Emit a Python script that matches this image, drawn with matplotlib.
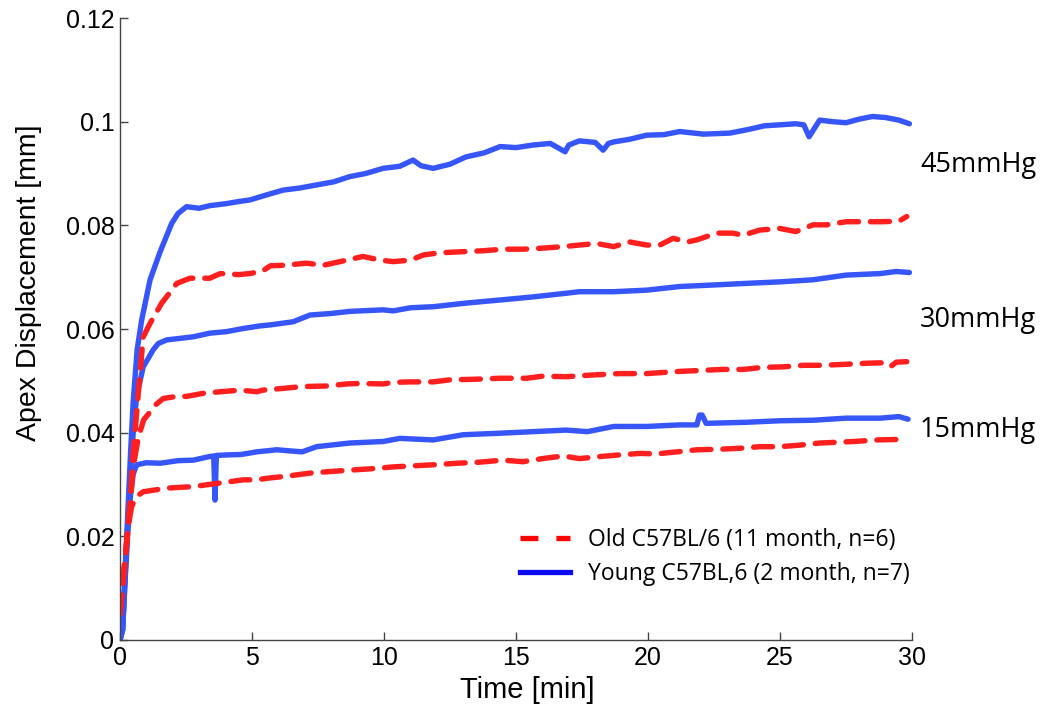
import numpy as np
import matplotlib
matplotlib.use("Agg")
import matplotlib.pyplot as plt
from matplotlib.lines import Line2D

# ---------------- DATA (time [min], displacement [mm]) ----------------
young_45 = np.array([
    (0, 0), (0.1, 0.002), (0.2, 0.014), (0.3, 0.025), (0.4, 0.036), (0.5, 0.046),
    (0.65, 0.056), (0.82, 0.0617), (1.14, 0.0695), (1.52, 0.0749), (1.96, 0.0804),
    (2.2, 0.0823), (2.52, 0.0836), (3.0, 0.0833), (3.4, 0.0838), (4.04, 0.0842),
    (4.5, 0.0846), (4.92, 0.0849), (5.5, 0.0858), (6.18, 0.0868), (6.8, 0.0872),
    (7.45, 0.0878), (8.1, 0.0884), (8.7, 0.0894), (9.3, 0.0900), (9.97, 0.0910),
    (10.6, 0.0914), (11.1, 0.0926), (11.4, 0.0915), (11.86, 0.0910), (12.5, 0.0918),
    (13.1, 0.0932), (13.8, 0.0940), (14.4, 0.0952), (15.0, 0.0950), (15.65, 0.0955),
    (16.3, 0.0958), (16.86, 0.0942), (17.0, 0.0955), (17.4, 0.0963), (18.0, 0.0960),
    (18.3, 0.0945), (18.5, 0.0958), (18.7, 0.0961), (19.3, 0.0966), (19.95, 0.0974),
    (20.6, 0.0975), (21.2, 0.0981), (22.1, 0.0976), (23.1, 0.0978), (23.8, 0.0985),
    (24.4, 0.0992), (25.0, 0.0994), (25.6, 0.0996), (25.9, 0.0994), (26.1, 0.0971),
    (26.5, 0.1003), (27.0, 0.1000), (27.5, 0.0998), (28.0, 0.1005), (28.5, 0.1010),
    (29.0, 0.1008), (29.5, 0.1003), (29.9, 0.0996)])

old_45 = np.array([
    (0, 0.005), (0.19, 0.0154), (0.31, 0.0219), (0.4, 0.028), (0.5, 0.036), (0.7, 0.048),
    (0.88, 0.0585), (1.14, 0.0611), (1.58, 0.065), (1.96, 0.0675), (2.15, 0.0688),
    (2.65, 0.0698), (3.4, 0.0698), (3.8, 0.0707), (4.5, 0.0705), (4.92, 0.0707),
    (5.4, 0.0712), (5.7, 0.0722), (6.2, 0.0723), (7.07, 0.0727), (7.7, 0.0723),
    (8.6, 0.0733), (9.2, 0.0740), (9.85, 0.0733), (10.35, 0.0730), (11.0, 0.0733),
    (11.5, 0.0743), (12.1, 0.0747), (12.9, 0.0749), (13.75, 0.0751), (14.5, 0.0754),
    (15.27, 0.0754), (16.0, 0.0756), (16.8, 0.0759), (17.4, 0.0762), (18.05, 0.0765),
    (18.7, 0.0759), (19.3, 0.0768), (19.95, 0.0762), (20.45, 0.0762), (20.95, 0.0775),
    (21.5, 0.0768), (21.85, 0.0772), (22.6, 0.0785), (23.2, 0.0785), (23.6, 0.0781),
    (24.24, 0.0791), (25.0, 0.0794), (25.6, 0.0788), (26.25, 0.0801), (26.77, 0.0801),
    (27.5, 0.0807), (28.15, 0.0807), (28.8, 0.0807), (29.5, 0.0808), (29.8, 0.0817)])

young_30 = np.array([
    (0, 0), (0.1, 0.002), (0.2, 0.013), (0.3, 0.023), (0.4, 0.032), (0.5, 0.040),
    (0.63, 0.047), (0.88, 0.0527), (1.26, 0.056), (1.45, 0.0572), (1.77, 0.0579),
    (2.78, 0.0585), (3.4, 0.0592), (4.04, 0.0595), (4.67, 0.0601), (5.3, 0.0606),
    (5.7, 0.0608), (6.56, 0.0614), (7.2, 0.0627), (8.0, 0.0630), (8.7, 0.0634),
    (9.97, 0.0637), (10.35, 0.0635), (11.0, 0.0641), (11.86, 0.0643), (13.1, 0.0650),
    (13.75, 0.0653), (14.4, 0.0656), (15.65, 0.0662), (16.9, 0.0669), (17.4, 0.0672),
    (18.7, 0.0672), (19.95, 0.0675), (21.2, 0.0682), (22.5, 0.0685), (23.7, 0.0688),
    (25.0, 0.0691), (26.25, 0.0695), (27.5, 0.0704), (28.8, 0.0707), (29.4, 0.0711),
    (29.9, 0.0709)])

old_30 = np.array([
    (0, 0.005), (0.19, 0.0154), (0.31, 0.0219), (0.4, 0.027), (0.5, 0.0334), (0.7, 0.0392),
    (0.9, 0.0425), (1.14, 0.044), (1.26, 0.045), (1.64, 0.0466), (2.15, 0.047),
    (2.52, 0.047), (3.16, 0.0476), (3.8, 0.0479), (4.55, 0.0482), (5.18, 0.0479),
    (5.4, 0.0482), (6.3, 0.0486), (6.9, 0.0489), (7.8, 0.0490), (8.6, 0.0494),
    (9.1, 0.0495), (9.97, 0.0494), (10.35, 0.0497), (11.0, 0.0498), (11.86, 0.0498),
    (12.5, 0.0502), (13.4, 0.0503), (14.4, 0.0505), (15.4, 0.0505), (16.0, 0.0509),
    (16.9, 0.0508), (17.8, 0.0511), (18.9, 0.0514), (19.95, 0.0514), (21.1, 0.0518),
    (21.97, 0.0520), (22.8, 0.0522), (23.6, 0.0522), (24.35, 0.0526), (25.1, 0.0527),
    (25.9, 0.0530), (26.6, 0.0530), (27.5, 0.0532), (28.3, 0.0534), (29.0, 0.0535),
    (29.2, 0.0528), (29.4, 0.0536), (29.8, 0.0537)])

young_15 = np.array([
    (0, 0), (0.1, 0.002), (0.2, 0.012), (0.3, 0.021), (0.4, 0.028), (0.5, 0.032),
    (0.63, 0.0338), (1.0, 0.0342), (1.52, 0.0341), (2.2, 0.0346), (2.78, 0.0347),
    (3.4, 0.0354), (3.55, 0.0355), (3.6, 0.027), (3.65, 0.0356), (4.04, 0.0357),
    (4.6, 0.0358), (5.18, 0.0363), (5.94, 0.0367), (6.4, 0.0365), (6.9, 0.0363),
    (7.45, 0.0373), (8.7, 0.0380), (9.97, 0.0383), (10.6, 0.0389), (11.86, 0.0386),
    (13.0, 0.0396), (14.4, 0.0399), (15.65, 0.0402), (16.9, 0.0405), (17.7, 0.0402),
    (18.7, 0.0412), (19.95, 0.0412), (21.2, 0.0415), (21.85, 0.0415), (21.95, 0.0434),
    (22.05, 0.0434), (22.2, 0.0418), (23.7, 0.0420), (25.0, 0.0423), (26.25, 0.0424),
    (27.5, 0.0428), (28.8, 0.0428), (29.5, 0.0431), (29.85, 0.0426)])

old_15 = np.array([
    (0, 0.005), (0.19, 0.0154), (0.31, 0.0219), (0.44, 0.0257), (0.6, 0.0276),
    (0.88, 0.0286), (1.77, 0.0293), (2.78, 0.0296), (3.66, 0.0302), (4.67, 0.0309),
    (5.18, 0.0309), (5.56, 0.0312), (6.3, 0.0316), (7.2, 0.0322), (7.95, 0.0325),
    (8.8, 0.0328), (9.7, 0.0331), (10.35, 0.0334), (11.1, 0.0336), (11.86, 0.0338),
    (12.75, 0.0341), (13.6, 0.0343), (14.5, 0.0347), (15.27, 0.0344), (16.0, 0.0350),
    (16.8, 0.0355), (17.4, 0.0350), (18.2, 0.0354), (18.9, 0.0357), (19.7, 0.0360),
    (20.3, 0.0359), (21.1, 0.0363), (21.85, 0.0367), (22.7, 0.0368), (23.5, 0.0370),
    (24.24, 0.0373), (25.0, 0.0373), (25.76, 0.0376), (26.5, 0.0380), (27.8, 0.0383),
    (28.7, 0.0386), (29.5, 0.0387), (29.7, 0.0389)])

pressure_labels = ["45mmHg", "30mmHg", "15mmHg"]
pressure_label_y = [0.0917, 0.0617, 0.0405]
legend_labels = ["Old C57BL/6 (11 month, n=6)", "Young C57BL,6 (2 month, n=7)"]

# ---------------- STYLE ----------------
blue = "#3656fa"
red = "#ff1f1f"

fig = plt.figure(figsize=(10.47, 7.10), dpi=100)
ax = fig.add_axes([0.1146, 0.0986, 0.7565, 0.876])

for d in (young_45, young_30, young_15):
    ax.plot(d[:, 0], d[:, 1], color=blue, lw=3.9, solid_capstyle="round",
            solid_joinstyle="round")
for d in (old_45, old_30, old_15):
    ax.plot(d[:, 0], d[:, 1], color=red, lw=3.9, linestyle=(0, (3.5, 2.2)),
            dash_capstyle="round")

ax.set_xlim(0, 30)
ax.set_ylim(0, 0.12)
ax.set_xticks(np.arange(0, 31, 5))
ax.set_yticks(np.arange(0, 0.121, 0.02))
ax.set_yticklabels(["0", "0.02", "0.04", "0.06", "0.08", "0.1", "0.12"],
                   fontfamily="Liberation Sans", fontsize=18)
ax.set_xticklabels([str(v) for v in range(0, 31, 5)], fontfamily="Liberation Sans",
                   fontsize=18)
ax.tick_params(direction="in", length=6, width=1, color="#444444", pad=4)

for s in ("top", "right"):
    ax.spines[s].set_visible(False)
for s in ("left", "bottom"):
    ax.spines[s].set_color("#444444")
    ax.spines[s].set_linewidth(1)

ax.set_xlabel("Time [min]", fontfamily="Liberation Sans", fontsize=21)
ax.set_ylabel("Apex Displacement [mm]", fontfamily="Liberation Sans", fontsize=20.5)
ax.xaxis.set_label_coords(0.514, -0.058)
ax.yaxis.set_label_coords(-0.098, 0.575)

for lab, y in zip(pressure_labels, pressure_label_y):
    ax.text(30.3, y, lab, fontfamily="Open Sans", fontsize=19.5, va="center",
            ha="left", clip_on=False)

handles = [Line2D([], [], color="#ff0000", lw=3.8, linestyle=(0, (3.4, 3.4))),
           Line2D([], [], color="#0a0af5", lw=3.8)]
ax.legend(handles, legend_labels, loc="upper left", bbox_to_anchor=(0.505, 0.18),
          frameon=False, prop={"family": "Open Sans", "size": 16.5},
          handlelength=2.2, handletextpad=0.75, labelspacing=0.42,
          borderpad=0, borderaxespad=0)

fig.savefig("out.png", dpi=100)
